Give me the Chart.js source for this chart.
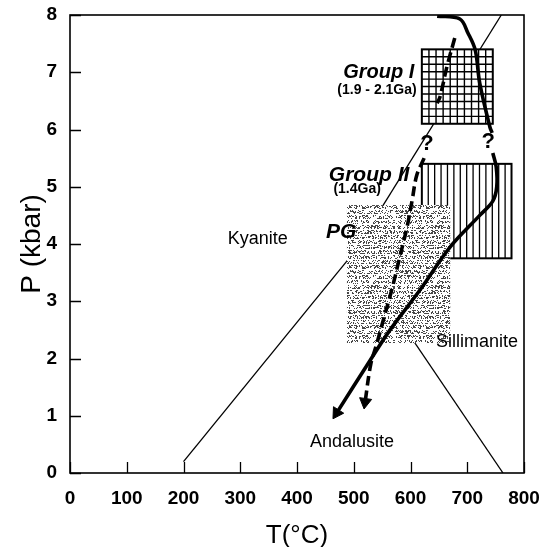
<!DOCTYPE html>
<html>
<head>
<meta charset="utf-8">
<script src="https://cdn.jsdelivr.net/npm/chart.js@4.4.1/dist/chart.umd.min.js"></script>
<style>
  html, body { margin: 0; padding: 0; background: #fff; }
  #wrap { width: 542px; height: 547px; }
</style>
</head>
<body>
<div id="wrap"><canvas id="ptChart"></canvas></div>
<script>
// axis ticks
const tempTicks = [0, 100, 200, 300, 400, 500, 600, 700, 800];
const pressTicks = [0, 1, 2, 3, 4, 5, 6, 7, 8];

// Al2SiO5 phase boundaries (T in °C, P in kbar)
const kyAndT = [200, 500];
const kyAndP = [0.2, 3.85];
const kySilT = [500, 760];
const kySilP = [3.85, 8];
const andSilT = [500, 763];
const andSilP = [3.85, 0];

// solid P-T path, split at the "?"
const solidUpT = [647, 687, 701, 714, 722, 740, 744];
const solidUpP = [7.98, 7.93, 7.69, 7.39, 6.81, 6.04, 5.94];
const solidLowT = [745, 751, 752, 745, 722, 670, 617, 564, 529, 470];
const solidLowP = [5.59, 5.35, 5.0, 4.75, 4.5, 3.95, 3.2, 2.5, 1.97, 1.05];

// dashed P-T path, split at the "?"
const dashUpT = [678, 664, 652, 647];
const dashUpP = [7.6, 7.09, 6.57, 6.46];
const dashLowT = [624, 611, 603, 594, 581, 567, 552, 541, 530, 520];
const dashLowP = [5.5, 5.2, 4.77, 4.3, 3.77, 3.2, 2.67, 2.27, 1.9, 1.24];

// age boxes: [Tmin, Tmax, Pmin, Pmax]
const groupIBox = [620, 745, 6.1, 7.4];
const groupIIBox = [620, 778, 3.75, 5.4];
const pgBox = [488, 670, 2.27, 4.68];

// text on the plot, anchored in T / P
const labelTexts = ['Group I', '(1.9 - 2.1Ga)', 'Group II', '(1.4Ga)', 'PG', 'Kyanite', 'Sillimanite', 'Andalusite', '?', '?'];
const labelT = [544, 541, 527, 506, 478, 331, 717, 497, 629, 737];
const labelP = [6.99, 6.69, 5.2, 4.96, 4.21, 4.09, 2.29, 0.54, 5.75, 5.78];

const FONT = '"Liberation Sans", Arial, sans-serif';
const labelFonts = [
  'italic bold 20px ' + FONT, 'bold 14px ' + FONT,
  'italic bold 21px ' + FONT, 'bold 14px ' + FONT,
  'italic bold 21px ' + FONT,
  '18px ' + FONT, '18px ' + FONT, '18px ' + FONT,
  'bold 22px ' + FONT, 'bold 22px ' + FONT
];

const zip = (xs, ys) => xs.map((v, i) => ({ x: v, y: ys[i] }));

// arrow head angle from the last two points of a line
function arrowAngle(ctx) {
  const pts = ctx.dataset.data;
  const n = pts.length;
  const sx = ctx.chart.scales.x, sy = ctx.chart.scales.y;
  const dx = sx.getPixelForValue(pts[n - 1].x) - sx.getPixelForValue(pts[n - 2].x);
  const dy = sy.getPixelForValue(pts[n - 1].y) - sy.getPixelForValue(pts[n - 2].y);
  return Math.atan2(dx, -dy) * 180 / Math.PI;
}

function thinLine(t, p) {
  return { data: zip(t, p), showLine: true, borderColor: '#000', borderWidth: 1.3, pointRadius: 0, tension: 0 };
}

function thickLine(t, p, dashed, arrow) {
  return {
    data: zip(t, p), showLine: true, isPath: true,
    borderColor: '#000', borderWidth: 3.6, borderDash: dashed ? [10, 5] : [],
    tension: 0.35, borderCapStyle: 'butt',
    pointStyle: 'triangle',
    pointRadius: ctx => (arrow && ctx.dataIndex === ctx.dataset.data.length - 1) ? 7 : 0,
    pointRotation: ctx => arrow ? arrowAngle(ctx) : 0,
    pointBackgroundColor: '#000', pointBorderColor: '#000', pointBorderWidth: 1
  };
}

// drawn last index first, so the paths go on top of the phase lines
const datasets = [
  thickLine(solidUpT, solidUpP, false, false),
  thickLine(solidLowT, solidLowP, false, true),
  thickLine(dashUpT, dashUpP, true, false),
  thickLine(dashLowT, dashLowP, true, true),
  thinLine(kyAndT, kyAndP),
  thinLine(kySilT, kySilP),
  thinLine(andSilT, andSilP)
];

function boxPx(chart, b) {
  const sx = chart.scales.x, sy = chart.scales.y;
  const x0 = sx.getPixelForValue(b[0]), x1 = sx.getPixelForValue(b[1]);
  const y0 = sy.getPixelForValue(b[3]), y1 = sy.getPixelForValue(b[2]);
  return { x0, x1, y0, y1, w: x1 - x0, h: y1 - y0 };
}

let stippleCanvas = null;
function makeStipple() {
  const c = document.createElement('canvas');
  c.width = 64; c.height = 60;
  const g = c.getContext('2d');
  const img = g.createImageData(64, 60);
  let s = 12345;
  for (let j = 0; j < 60; j++) {
    for (let i = 0; i < 64; i++) {
      s = (s * 1103515245 + 12345) & 0x7fffffff;
      const r = s / 0x7fffffff;
      const gap = (j % 5) === 4;
      const v = (!gap && r < 0.36) ? 70 : 255;
      const k = (j * 64 + i) * 4;
      img.data[k] = img.data[k + 1] = img.data[k + 2] = v;
      img.data[k + 3] = 255;
    }
  }
  g.putImageData(img, 0, 0);
  return c;
}

function drawBoxes(chart) {
  const ctx = chart.ctx;
  ctx.save();
  ctx.strokeStyle = '#000';

  // Group I: square grid
  let r = boxPx(chart, groupIBox);
  ctx.fillStyle = '#fff';
  ctx.fillRect(r.x0, r.y0, r.w, r.h);
  ctx.lineWidth = 1.4;
  ctx.beginPath();
  for (let i = 1; i < 10; i++) {
    const x = r.x0 + r.w * i / 10;
    ctx.moveTo(x, r.y0); ctx.lineTo(x, r.y1);
    const y = r.y0 + r.h * i / 10;
    ctx.moveTo(r.x0, y); ctx.lineTo(r.x1, y);
  }
  ctx.stroke();
  ctx.lineWidth = 2;
  ctx.strokeRect(r.x0, r.y0, r.w, r.h);

  // Group II: vertical hatching
  r = boxPx(chart, groupIIBox);
  ctx.fillStyle = '#fff';
  ctx.fillRect(r.x0, r.y0, r.w, r.h);
  ctx.lineWidth = 1.3;
  ctx.beginPath();
  for (let i = 1; i < 14; i++) {
    const x = r.x0 + r.w * i / 14;
    ctx.moveTo(x, r.y0); ctx.lineTo(x, r.y1);
  }
  ctx.stroke();
  ctx.lineWidth = 2;
  ctx.strokeRect(r.x0, r.y0, r.w, r.h);

  // PG: stippled field
  r = boxPx(chart, pgBox);
  if (!stippleCanvas) stippleCanvas = makeStipple();
  ctx.fillStyle = ctx.createPattern(stippleCanvas, 'repeat');
  ctx.fillRect(r.x0, r.y0, r.w, r.h);
  ctx.restore();
}

let boxesDone = false;
const ptPlugin = {
  id: 'ptPlugin',
  beforeDatasetsDraw() { boxesDone = false; },
  beforeDatasetDraw(chart, args) {
    if (!boxesDone && chart.data.datasets[args.index].isPath) {
      drawBoxes(chart);
      boxesDone = true;
    }
  },
  afterDraw(chart) {
    const ctx = chart.ctx;
    const a = chart.chartArea;
    const sx = chart.scales.x, sy = chart.scales.y;
    ctx.save();
    ctx.strokeStyle = '#000';
    ctx.lineWidth = 1.6;
    ctx.strokeRect(a.left, a.top, a.right - a.left, a.bottom - a.top);
    // inward tick marks
    ctx.lineWidth = 1.3;
    ctx.beginPath();
    sx.ticks.forEach(t => {
      const x = Math.round(sx.getPixelForValue(t.value)) + 0.5;
      ctx.moveTo(x, a.bottom); ctx.lineTo(x, a.bottom - 11);
    });
    sy.ticks.forEach(t => {
      const y = Math.round(sy.getPixelForValue(t.value)) + 0.5;
      ctx.moveTo(a.left, y); ctx.lineTo(a.left + 11, y);
    });
    ctx.stroke();
    // labels
    ctx.fillStyle = '#000';
    ctx.textAlign = 'center';
    ctx.textBaseline = 'middle';
    labelTexts.forEach((txt, i) => {
      ctx.font = labelFonts[i];
      ctx.fillText(txt, sx.getPixelForValue(labelT[i]), sy.getPixelForValue(labelP[i]));
    });
    ctx.restore();
  }
};

function noScalePadding(s) {
  s.paddingLeft = 0; s.paddingRight = 0; s.paddingTop = 0; s.paddingBottom = 0;
}

new Chart(document.getElementById('ptChart'), {
  type: 'scatter',
  data: { datasets: datasets },
  options: {
    responsive: true,
    maintainAspectRatio: false,
    animation: false,
    layout: { padding: { top: 15, right: 18, left: 0, bottom: 0 } },
    plugins: { legend: { display: false }, tooltip: { enabled: false } },
    scales: {
      x: {
        type: 'linear', min: 0, max: 800,
        afterBuildTicks: s => { s.ticks = tempTicks.map(v => ({ value: v })); },
        grid: { display: false, drawTicks: false },
        border: { display: false },
        ticks: { color: '#000', font: { family: FONT, size: 19, weight: 'bold' }, padding: 14, maxRotation: 0, autoSkip: false },
        title: { display: true, text: 'T(°C)', color: '#000', font: { family: FONT, size: 26 }, padding: { top: 0, bottom: -4 } },
        afterFit: s => { s.height = 74; noScalePadding(s); }
      },
      y: {
        type: 'linear', min: 0, max: 8,
        afterBuildTicks: s => { s.ticks = pressTicks.map(v => ({ value: v })); },
        grid: { display: false, drawTicks: false },
        border: { display: false },
        ticks: { color: '#000', font: { family: FONT, size: 19, weight: 'bold' }, padding: 13, autoSkip: false },
        title: { display: true, text: 'P (kbar)', color: '#000', font: { family: FONT, size: 28 }, padding: { top: 15, bottom: 0 } },
        afterFit: s => { s.width = 70; noScalePadding(s); }
      }
    }
  },
  plugins: [ptPlugin]
});
</script>
</body>
</html>
